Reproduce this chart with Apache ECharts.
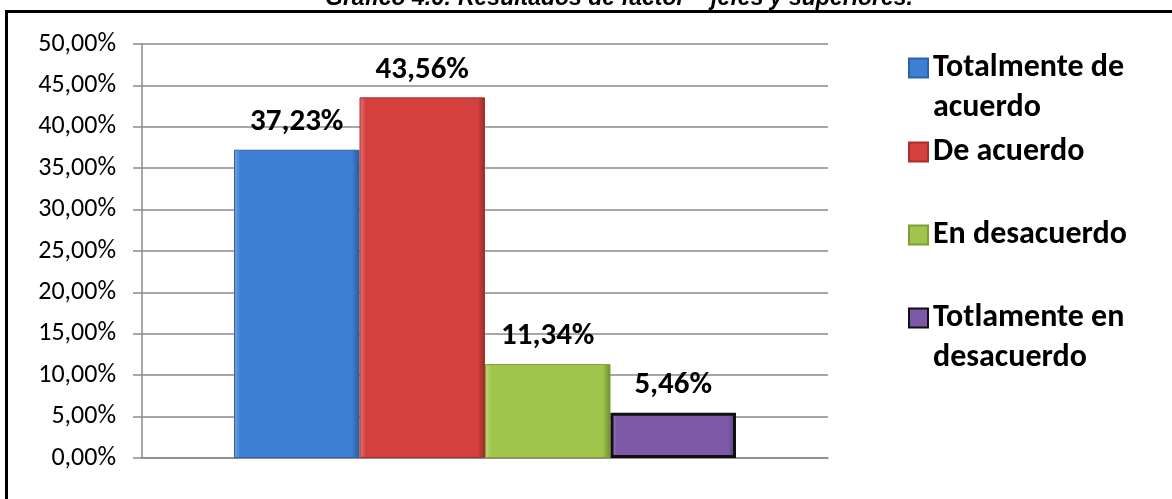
<!DOCTYPE html>
<html>
<head>
<meta charset="utf-8">
<script src="https://cdn.jsdelivr.net/npm/echarts@6/dist/echarts.min.js"></script>
<style>
  html, body { margin: 0; padding: 0; background: #fff; }
  #frame {
    position: absolute; left: 5px; top: 10px; width: 1300px; height: 700px;
    border: 3px solid #000; box-sizing: border-box;
  }
  #chart { position: absolute; left: 0; top: 0; width: 1172px; height: 499px; }
</style>
</head>
<body>
<div id="frame"></div>
<div id="chart"></div>
<script>
// Survey answers for the factor "jefes y superiores" (percent of respondents)
const category = ['Jefes y superiores'];
const seriesNames = ['Totalmente de acuerdo', 'De acuerdo', 'En desacuerdo', 'Totlamente en desacuerdo'];
const legendLabels = ['Totalmente de\nacuerdo', 'De acuerdo', 'En desacuerdo', 'Totlamente en\ndesacuerdo'];
const values = [37.23, 43.56, 11.34, 5.46];
const yTicks = { min: 0, max: 50, interval: 5 };

const baseColors = ['#3d7fd3', '#d4403e', '#a0c54a', '#7c58a7'];
const edgeColors = ['#2d62a8', '#a82f2d', '#7f9d38', '#111111'];
const borderWidths = [1, 1, 1, 3];

const FONT = 'Carlito, Lato, "Open Sans", sans-serif';

function pct(v) {
  return v.toFixed(2).replace('.', ',') + '%';
}

function shade(hex, amt) {
  const n = parseInt(hex.slice(1), 16);
  let r = (n >> 16) & 255, g = (n >> 8) & 255, b = n & 255;
  const f = c => Math.max(0, Math.min(255, Math.round(amt > 0 ? c + (255 - c) * amt : c * (1 + amt))));
  return 'rgb(' + f(r) + ',' + f(g) + ',' + f(b) + ')';
}

// Beveled look: light left edge, flat face, darker right edge
function bevel(hex) {
  return new echarts.graphic.LinearGradient(0, 0, 1, 0, [
    { offset: 0, color: shade(hex, 0.3) },
    { offset: 0.05, color: hex },
    { offset: 0.94, color: hex },
    { offset: 1, color: shade(hex, -0.3) }
  ]);
}

const chart = echarts.init(document.getElementById('chart'), null, { renderer: 'canvas' });

const series = seriesNames.map((name, i) => ({
  name: name,
  type: 'bar',
  barWidth: 125.5,
  barGap: '0%',
  data: [values[i]],
  itemStyle: {
    color: bevel(baseColors[i]),
    borderColor: edgeColors[i],
    borderWidth: borderWidths[i]
  },
  label: {
    show: true,
    position: 'top',
    distance: 12,
    formatter: p => pct(p.value),
    color: '#000',
    fontFamily: FONT,
    fontWeight: 'bold',
    fontSize: 31
  }
}));

// Each legend entry is its own block so the swatch sits beside the first text line;
// wrapped entries get a leading empty line to keep that first line centred on the swatch.
const legendTops = [8, 132, 215, 258];
const legends = seriesNames.map((name, i) => {
  const wrapped = legendLabels[i].indexOf('\n') >= 0;
  return {
    data: [name],
    left: 908,
    top: legendTops[i],
    orient: 'vertical',
    padding: 0,
    itemWidth: 19,
    itemHeight: 19,
    icon: 'rect',
    selectedMode: false,
    formatter: () => (wrapped ? ' \n' : '') + legendLabels[i],
    textStyle: {
      color: '#000',
      fontFamily: FONT,
      fontWeight: 'bold',
      fontSize: 32,
      lineHeight: 40
    }
  };
});

chart.setOption({
  backgroundColor: 'transparent',
  animation: false,
  title: {
    text: '{n|Gráfico 4.6: Resultados de factor – }{b|jefes y superiores.}',
    left: 325,
    top: -13,
    padding: 0,
    textStyle: {
      rich: {
        n: { fontFamily: '"Liberation Sans", Arial, sans-serif', fontStyle: 'italic', fontSize: 23, color: '#000' },
        b: { fontFamily: '"Liberation Sans", Arial, sans-serif', fontStyle: 'italic', fontWeight: 'bold', fontSize: 23, color: '#000' }
      }
    }
  },
  legend: legends,
  grid: { left: 142, right: 344, top: 44, bottom: 41 },
  xAxis: {
    type: 'category',
    data: category,
    axisLine: { show: true, lineStyle: { color: '#8a8a8a', width: 1.5 } },
    axisTick: { show: false },
    axisLabel: { show: false }
  },
  yAxis: {
    type: 'value',
    min: yTicks.min,
    max: yTicks.max,
    interval: yTicks.interval,
    axisLine: { show: true, lineStyle: { color: '#8a8a8a', width: 1.5 } },
    axisTick: { show: true, inside: false, length: 9, lineStyle: { color: '#8a8a8a', width: 1.5 } },
    splitLine: { show: true, lineStyle: { color: '#8a8a8a', width: 1.5 } },
    axisLabel: {
      formatter: v => pct(v),
      margin: 26,
      color: '#000',
      fontFamily: FONT,
      fontSize: 26
    }
  },
  series: series
});
</script>
</body>
</html>
